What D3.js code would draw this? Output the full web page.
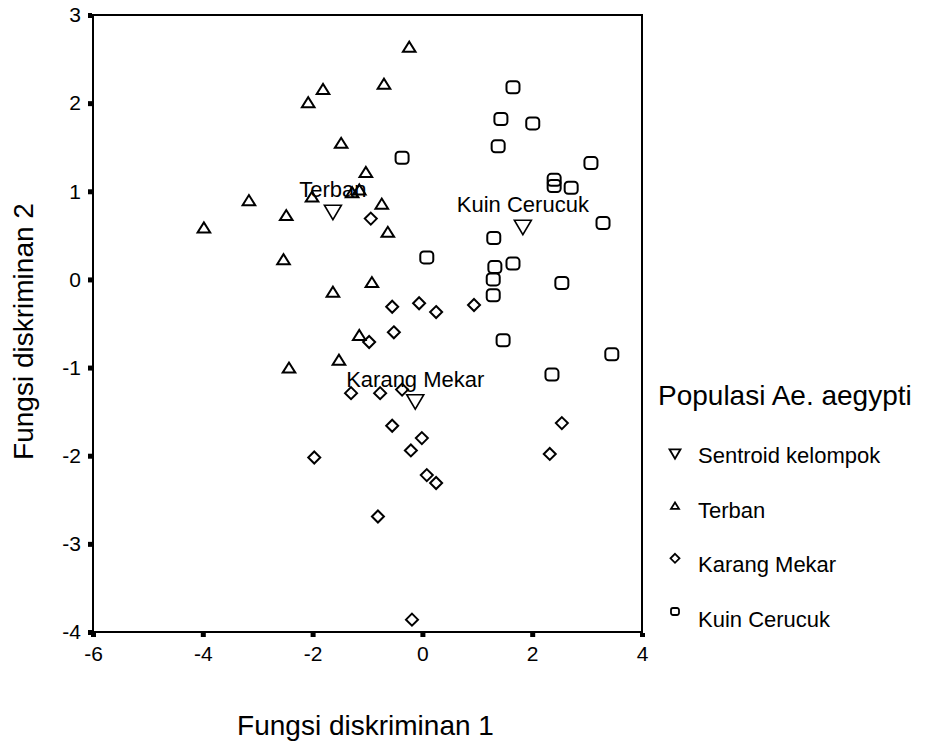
<!DOCTYPE html>
<html>
<head>
<meta charset="utf-8">
<script src="https://cdn.jsdelivr.net/npm/d3@7"></script>
<style>
  body { margin: 0; background: #fff; }
  text { font-family: "Liberation Sans", Arial, sans-serif; fill: #000; }
</style>
</head>
<body>
<div id="chart"></div>
<script>
// discriminant scores: [fungsi 1, fungsi 2]
const terban = [
    [-3.98, 0.59], [-3.16, 0.90], [-2.48, 0.73], [-2.53, 0.23], [-2.43, -1.00],
    [-2.08, 2.01], [-1.81, 2.16], [-2.01, 0.94], [-1.48, 1.55], [-1.63, -0.14],
    [-1.52, -0.91], [-1.03, 1.22], [-1.28, 0.99], [-1.15, 1.02], [-0.24, 2.64],
    [-0.70, 2.22], [-0.74, 0.86], [-0.63, 0.54], [-0.92, -0.03], [-1.15, -0.63]
];
const karangMekar = [
    [-0.94, 0.69], [-0.97, -0.71], [-1.30, -1.29], [-0.77, -1.29], [-0.37, -1.25],
    [-0.55, -0.31], [-0.06, -0.27], [0.25, -0.37], [0.94, -0.29], [-0.52, -0.60],
    [-1.97, -2.02], [-0.81, -2.69], [-0.55, -1.66], [-0.01, -1.80], [-0.21, -1.94],
    [0.08, -2.22], [0.25, -2.31], [-0.19, -3.86], [2.54, -1.63], [2.32, -1.98]
];
const kuinCerucuk = [
    [1.65, 2.18], [1.43, 1.82], [2.01, 1.77], [1.38, 1.51], [-0.37, 1.38],
    [3.07, 1.32], [2.40, 1.13], [2.40, 1.06], [2.71, 1.04], [3.29, 0.64],
    [1.30, 0.47], [0.08, 0.25], [1.32, 0.14], [1.65, 0.18], [1.29, 0.00],
    [1.29, -0.18], [2.54, -0.04], [1.47, -0.69], [3.45, -0.85], [2.36, -1.08]
];
const centroidNames = ["Terban", "Karang Mekar", "Kuin Cerucuk"];
const centroidValues = [[-1.63, 0.76], [-0.13, -1.39], [1.83, 0.59]];

const xTicks = [-6, -4, -2, 0, 2, 4];
const yTicks = [-4, -3, -2, -1, 0, 1, 2, 3];
const legendLabels = ["Sentroid kelompok", "Terban", "Karang Mekar", "Kuin Cerucuk"];

const width = 925, height = 743;
const margin = {top: 15, right: 283, bottom: 111, left: 93};

const svg = d3.select("#chart").append("svg")
    .attr("width", width)
    .attr("height", height);

const x = d3.scaleLinear().domain([-6, 4]).range([margin.left, width - margin.right]);
const y = d3.scaleLinear().domain([-4, 3]).range([height - margin.bottom, margin.top]);

// plain hyphen labels like the original output
const tickFmt = d => String(d);

// frame
svg.append("rect")
    .attr("x", x(-6)).attr("y", y(3))
    .attr("width", x(4) - x(-6)).attr("height", y(-4) - y(3))
    .attr("fill", "none").attr("stroke", "#000").attr("stroke-width", 2);

// axes: little square tick marks, no domain line (frame draws it)
const xAxis = svg.append("g")
    .attr("transform", `translate(0, ${y(-4)})`)
    .call(d3.axisBottom(x).tickValues(xTicks).tickFormat(tickFmt).tickSize(0).tickPadding(14));
xAxis.select(".domain").remove();
xAxis.selectAll("text").style("font-size", "21px").style("font-family", "Liberation Sans, Arial, sans-serif");
xAxis.selectAll(".tick").append("rect")
    .attr("x", -2.5).attr("y", 1).attr("width", 5).attr("height", 4).attr("fill", "#000");

const yAxis = svg.append("g")
    .attr("transform", `translate(${x(-6)}, 0)`)
    .call(d3.axisLeft(y).tickValues(yTicks).tickFormat(tickFmt).tickSize(0).tickPadding(12));
yAxis.select(".domain").remove();
yAxis.selectAll("text").style("font-size", "21px").style("font-family", "Liberation Sans, Arial, sans-serif");
yAxis.selectAll(".tick").append("rect")
    .attr("x", -5).attr("y", -2.5).attr("width", 4).attr("height", 5).attr("fill", "#000");

// axis titles
svg.append("text")
    .attr("x", (x(-6) + x(4)) / 2 - 2)
    .attr("y", 735)
    .attr("text-anchor", "middle")
    .style("font-size", "28px")
    .text("Fungsi diskriminan 1");

svg.append("text")
    .attr("transform", `translate(33, ${(y(-4) + y(3)) / 2 + 8}) rotate(-90)`)
    .attr("text-anchor", "middle")
    .style("font-size", "28px")
    .text("Fungsi diskriminan 2");

// marker shapes
function triUp(s) { return `M${-s},${s * 0.8}L${s},${s * 0.8}L0,${-s * 0.8}Z`; }
function triDown(s) { return `M${-s},${-s * 0.85}L${s},${-s * 0.85}L0,${s * 0.85}Z`; }
function diamond(s) { return `M0,${-s}L${s},0L0,${s}L${-s},0Z`; }

const plot = svg.append("g");

plot.selectAll(".terban")
    .data(terban)
    .enter().append("path")
    .attr("class", "terban")
    .attr("transform", d => `translate(${x(d[0])}, ${y(d[1])})`)
    .attr("d", triUp(6.3))
    .attr("fill", "none").attr("stroke", "#000").attr("stroke-width", 2);

plot.selectAll(".karang")
    .data(karangMekar)
    .enter().append("path")
    .attr("class", "karang")
    .attr("transform", d => `translate(${x(d[0])}, ${y(d[1])})`)
    .attr("d", diamond(6))
    .attr("fill", "none").attr("stroke", "#000").attr("stroke-width", 2);

plot.selectAll(".kuin")
    .data(kuinCerucuk)
    .enter().append("rect")
    .attr("class", "kuin")
    .attr("x", d => x(d[0]) - 6.5)
    .attr("y", d => y(d[1]) - 6)
    .attr("width", 13).attr("height", 12)
    .attr("rx", 3.5)
    .attr("fill", "none").attr("stroke", "#000").attr("stroke-width", 2);

plot.selectAll(".centroid")
    .data(centroidValues)
    .enter().append("path")
    .attr("class", "centroid")
    .attr("transform", d => `translate(${x(d[0])}, ${y(d[1])})`)
    .attr("d", triDown(8.5))
    .attr("fill", "none").attr("stroke", "#000").attr("stroke-width", 1.6);

plot.selectAll(".centroid-label")
    .data(centroidValues)
    .enter().append("text")
    .attr("class", "centroid-label")
    .attr("x", d => x(d[0]))
    .attr("y", d => y(d[1]) - 15)
    .attr("text-anchor", "middle")
    .style("font-size", "22px")
    .text((d, i) => centroidNames[i]);

// legend
const legend = svg.append("g");
legend.append("text")
    .attr("x", 658).attr("y", 405)
    .style("font-size", "28px")
    .text("Populasi Ae. aegypti");

const legendY = d3.scalePoint().domain(legendLabels).range([463, 627]);
const legendShapes = [triDown(5.5), triUp(4), diamond(4.5), null];

legendLabels.forEach((lab, i) => {
    let g = legend.append("g")
        .attr("transform", `translate(675, ${legendY(lab) - 8})`);
    if (legendShapes[i]) {
        g.append("path")
            .attr("d", legendShapes[i])
            .attr("transform", i == 0 ? "translate(0,-1)" : (i == 1 ? "translate(0,-4)" : "translate(0,-6)"))
            .attr("fill", "none").attr("stroke", "#000").attr("stroke-width", 1.8);
    } else {
        g.append("rect")
            .attr("x", -4).attr("y", -11).attr("width", 8).attr("height", 7).attr("rx", 2)
            .attr("fill", "none").attr("stroke", "#000").attr("stroke-width", 1.8);
    }
    legend.append("text")
        .attr("x", 698).attr("y", legendY(lab))
        .style("font-size", "22px")
        .text(lab);
});
</script>
</body>
</html>
